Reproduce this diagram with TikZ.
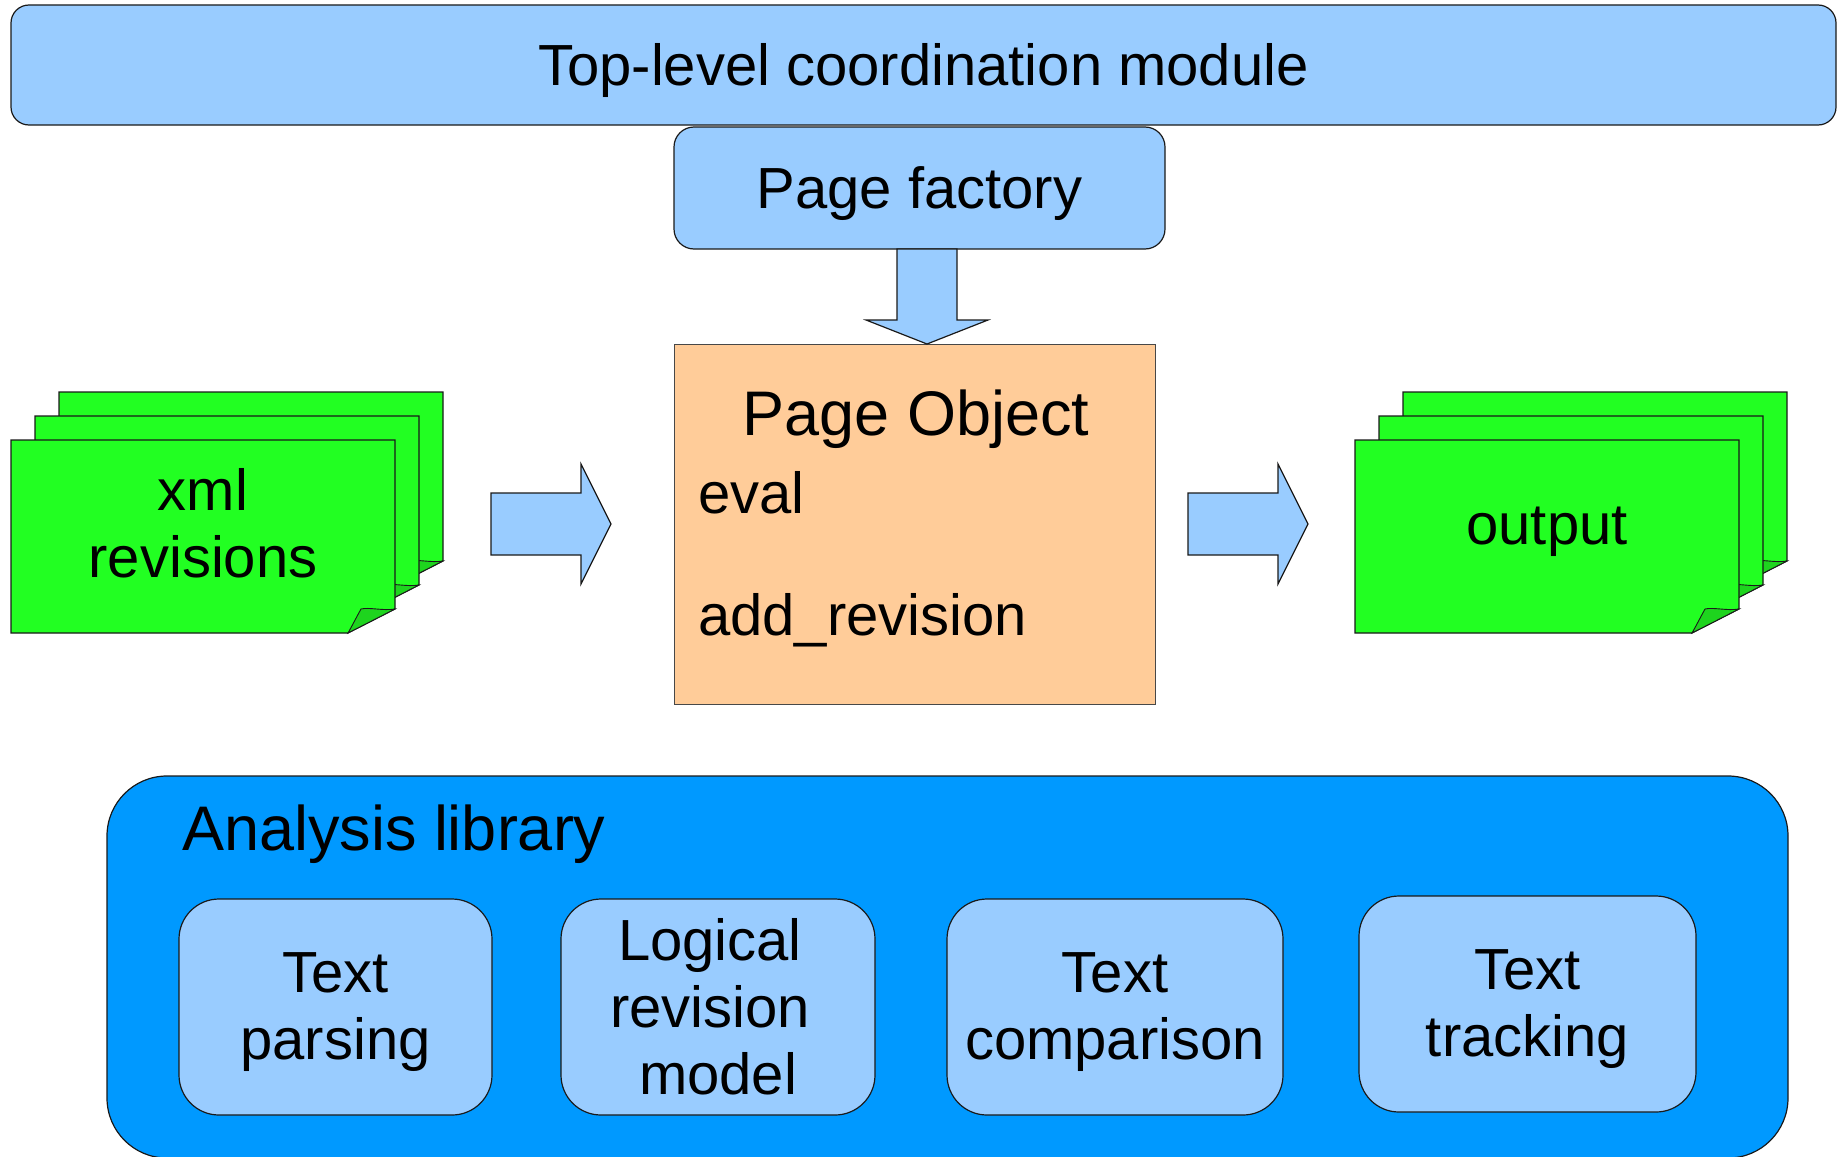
\documentclass[tikz,border=0pt]{standalone}
\usepackage{fontspec}
\setmainfont{Liberation Sans}
\definecolor{skyblue}{HTML}{99CCFF}
\definecolor{peach}{HTML}{FFCC99}
\definecolor{docgreen}{HTML}{22FF22}
\definecolor{foldgreen}{HTML}{1ED41E}
\definecolor{libblue}{HTML}{0099FF}
\definecolor{edge}{HTML}{1A1A1A}
\newcommand\trailpad{\hbox to 16pt{\hss}}
\begin{document}
\begin{tikzpicture}[x=1pt,y=-1pt,
  outline/.style={draw=edge, line width=1.2pt},
  box/.style={outline, inner sep=0pt, outer sep=0pt, anchor=center},
  bluebox/.style={box, fill=skyblue},
  lbl/.style={inner sep=0pt, outer sep=0pt, font=\fontsize{58}{67}\selectfont},
  biglbl/.style={inner sep=0pt, outer sep=0pt, font=\fontsize{63}{72}\selectfont},
  multi/.style={lbl, align=center, text width=#1pt, anchor=base},
  % a sheet of paper with a curled lower right corner; origin at its top left
  sheet/.pic={
    \path[fill=docgreen, outline] (0,0) -- (384,0) -- (384,169) -- (337,193) -- (0,193) -- cycle;
    \path[fill=foldgreen, outline, line width=0.9pt] (384,169)
      .. controls (372,171) and (358,167) .. (350,169)
      .. controls (345,178) and (341,186) .. (337,193) -- cycle;
  },
  % block arrow pointing right; origin at the middle of the tail
  rightarrow/.pic={
    \path[fill=skyblue, outline] (0,-31) -- (90,-31) -- (90,-60) -- (120,0)
      -- (90,60) -- (90,31) -- (0,31) -- cycle;
  },
  % block arrow pointing down; origin at the middle of the tail
  downarrow/.pic={
    \path[fill=skyblue, outline] (-30,0) -- (30,0) -- (30,71) -- (61,71)
      -- (0,95) -- (-61,71) -- (-30,71) -- cycle;
  }
]
\useasboundingbox (0,0) rectangle (1841,1156);

% coordination layer
\node[bluebox, rounded corners=18pt, minimum width=1825pt, minimum height=120pt] (top) at (923.5,65) {};
\node[lbl, anchor=base] (toptext) at (923.5,85) {Top-level coordination module};

\node[bluebox, rounded corners=20pt, minimum width=491pt, minimum height=122pt] (pf) at (919.5,188) {};
\node[lbl, anchor=base] (pftext) at (919.5,208) {Page factory};

% page object
\node[box, fill=peach, draw=edge!80, line width=1pt, minimum width=481pt, minimum height=360pt] (po) at (914.5,524) {};
\node[biglbl, anchor=base] (potitle) at (916,435) {Page Object};
\node[lbl, anchor=base west] (poeval) at (698,513) {eval};
\node[lbl, anchor=base west] (poadd) at (698,635) {add\_revision};

\pic at (927,249) {downarrow};

% input revisions
\pic at (59,392) {sheet};
\pic at (35,416) {sheet};
\pic at (11,440) {sheet};
\node[multi=360, anchor=base] (xmltext) at (203,510) {xml\\revisions};

\pic at (491,524) {rightarrow};

% output
\pic at (1188,524) {rightarrow};

\pic at (1403,392) {sheet};
\pic at (1379,416) {sheet};
\pic at (1355,440) {sheet};
\node[lbl, anchor=base] (outtext) at (1547,544) {output};

% analysis library
\node[box, fill=libblue, rounded corners=60pt, minimum width=1681pt, minimum height=382pt] (lib) at (947.5,967) {};
\node[biglbl, anchor=base west] (libtext) at (182,850) {Analysis library};

\node[bluebox, rounded corners=40pt, minimum width=313pt, minimum height=216pt] (tp) at (335.5,1007) {};
\node[multi=300] (tptext) at (335.5,992) {Text\\parsing};

\node[bluebox, rounded corners=40pt, minimum width=314pt, minimum height=216pt] (lr) at (718,1007) {};
\node[multi=300] (lrtext) at (718,960) {Logical\trailpad\\revision\trailpad\\model};

\node[bluebox, rounded corners=40pt, minimum width=336pt, minimum height=216pt] (tc) at (1115,1007) {};
\node[multi=320] (tctext) at (1115,992) {Text\\comparison};

\node[bluebox, rounded corners=40pt, minimum width=337pt, minimum height=216pt] (tt) at (1527.5,1004) {};
\node[multi=320] (tttext) at (1527.5,989) {Text\\tracking};
\end{tikzpicture}
\end{document}
